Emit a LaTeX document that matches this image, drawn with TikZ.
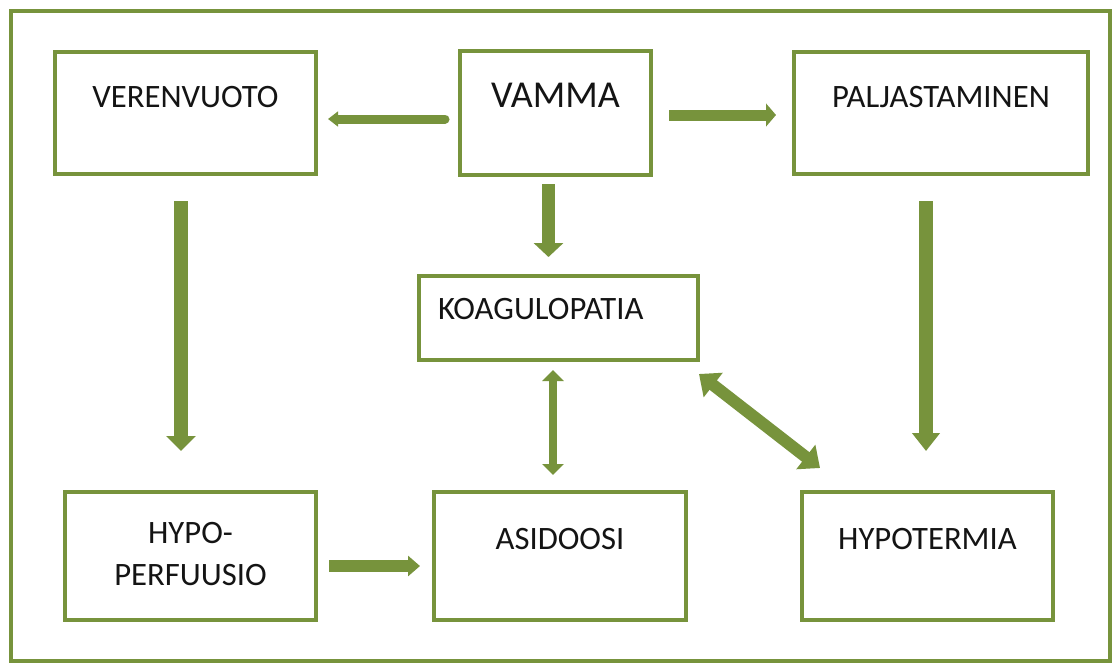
\documentclass[tikz,border=0pt]{standalone}
\usepackage{fontspec}
\setmainfont{Carlito}
\usetikzlibrary{arrows.meta,calc}
\definecolor{gbord}{RGB}{119,147,60}
\begin{document}
\begin{tikzpicture}[x=0.75pt,y=-0.75pt,
  box/.style={draw=gbord, line width=3pt, inner sep=0pt, fill=white,
    font=\fontsize{24.5}{31.5}\selectfont, text=black!92, align=center},
  arr/.style={draw=gbord, line width=#1},
]
\useasboundingbox (0,0) rectangle (1114,662);
\fill[white] (0,0) rectangle (1114,662);
% outer frame
\draw[gbord, line width=3pt] (11,11) rectangle (1109.5,660.5);

% boxes
\node[box, minimum width=195.75pt, text height=41.25pt, text depth=50.25pt] (ver) at (185.5,113) {VERENVUOTO};
\node[box, minimum width=143.25pt, text height=42pt, text depth=51pt, font=\fontsize{28.5}{34}\selectfont] (vamma) at (555.5,113) {VAMMA};
\node[box, minimum width=220.5pt, text height=41.25pt, text depth=50.25pt] (palj) at (941,113) {PALJASTAMINEN};
\node[box, inner xsep=14.25pt, text width=180.75pt, align=left, text height=32.25pt, text depth=30.75pt] (koag) at (558.5,318) {KOAGULOPATIA};
\node[box, minimum width=188.25pt, text height=69.75pt, text depth=26.25pt] (hypop) at (190.5,556) {HYPO-\\PERFUUSIO};
\node[box, minimum width=189pt, text height=42.75pt, text depth=53.25pt] (asid) at (560,556) {ASIDOOSI};
\node[box, minimum width=188.25pt, text height=42.75pt, text depth=53.25pt] (hypot) at (927.5,556) {HYPOTERMIA};

% connectors
\draw[arr=6.75pt, line cap=round, -{Triangle[length=7.5pt,width=11pt]}]
  ([shift={(-13,6)}]vamma.west) -- ([shift={(10,6)}]ver.east);
\draw[arr=8.25pt, -{Triangle[length=7.5pt,width=17pt]}]
  ([shift={(16,2)}]vamma.east) -- ([shift={(-16,2)}]palj.west);
\draw[arr=9.75pt, -{Triangle[length=10.5pt,width=21.75pt]}]
  ([shift={(-7,7)}]vamma.south) -- ($(vamma.south |- koag.north)+(-7,-17)$);
\draw[arr=10.5pt, -{Triangle[length=11.25pt,width=21.75pt]}]
  ([shift={(-4.5,25)}]ver.south) -- ($(ver.south |- hypop.north)+(-4.5,-39)$);
\draw[arr=10.5pt, -{Triangle[length=13.5pt,width=20.25pt]}]
  ([shift={(-15,25)}]palj.south) -- ($(palj.south |- hypot.north)+(-15,-39)$);
\draw[arr=9pt, -{Triangle[length=9pt,width=15pt]}]
  ([shift={(11,10)}]hypop.east) -- ($(hypop.east -| asid.west)+(-12,10)$);
\draw[arr=6pt, {Triangle[length=8.25pt,width=15.75pt]}-{Triangle[length=8.25pt,width=15.75pt]}]
  ([shift={(-5.5,8)}]koag.south) -- ($(koag.south |- asid.north)+(-5.5,-15)$);
\draw[arr=9pt, {Triangle[length=13.5pt,width=22.5pt]}-{Triangle[length=13.5pt,width=22.5pt]}]
  ([shift={(-1,12)}]koag.south east) -- ([shift={(20,-22)}]hypot.north west);
\end{tikzpicture}
\end{document}
